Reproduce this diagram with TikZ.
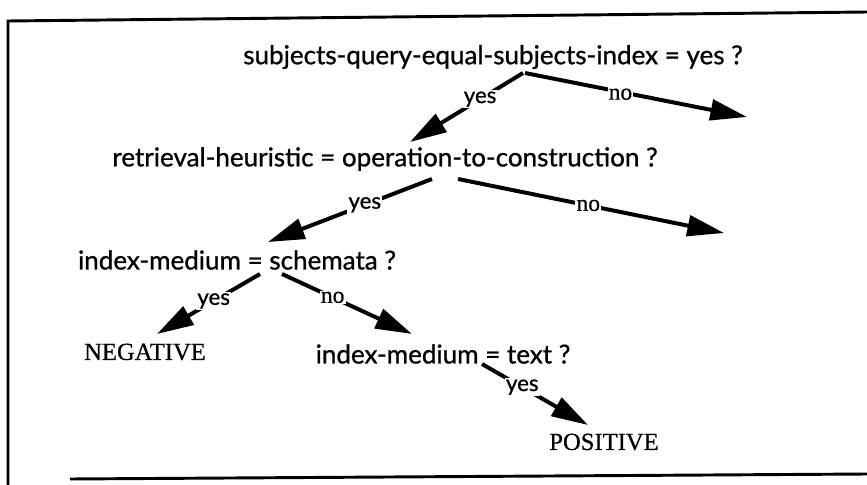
\documentclass[tikz,border=0pt]{standalone}
\usepackage{fontspec}
\usetikzlibrary{arrows.meta,calc}
\newfontfamily\qfont{Lato}[FakeBold=0.9]
\newfontfamily\outfont{Liberation Serif}[FakeBold=0.6]

\begin{document}
\begin{tikzpicture}[
        x=0.03cm, y=-0.03cm,
        question/.style={font=\qfont\fontsize{22.2}{26}\selectfont, inner sep=0pt},
        outcome/.style={font=\outfont\fontsize{21}{24}\selectfont, inner sep=0pt},
        yeslabel/.style={font=\qfont\fontsize{19}{22}\selectfont, fill=white, inner sep=1pt},
        nolabel/.style={font=\outfont\fontsize{20}{23}\selectfont, fill=white, inner sep=1pt},
        branch/.style={line width=3.4pt, -{Triangle[length=1.1cm, width=0.62cm]}},
        frame/.style={line width=2.5pt},
    ]
        \useasboundingbox (0,0) rectangle (867,485);

        % Frame
        \draw[frame] (8,485) -- (8,21) -- (867,12);
        \draw[frame] (70,479) -- (867,474);

        % Questions
        \node[question] (q1) at (493,57) {subjects-query-equal-subjects-index = yes ?};
        \node[question] (q2) at (385,159) {retrieval-heuristic = operation-to-construction ?};
        \node[question] (q3) at (237,260) {index-medium = schemata ?};
        \node[question] (q4) at (443,354) {index-medium = text ?};

        % Outcomes
        \node[outcome] (neg) at (145,352) {NEGATIVE};
        \node[outcome] (pos) at (604,442) {POSITIVE};

        % Open ends
        \coordinate (no1end) at (747,117);
        \coordinate (no2end) at (724,233);

        % Branches
        \draw[branch] ($(q1)+(30,16)$) -- node[yeslabel, pos=0.38] {yes} ($(q2)+(25,-17)$);
        \draw[branch] ($(q1)+(32,16)$) -- node[nolabel, pos=0.43, yshift=-2pt] {no} (no1end);
        \draw[branch] ($(q2)+(47,20)$) -- node[yeslabel, pos=0.41] {yes} ($(q3)+(31,-18)$);
        \draw[branch] ($(q2)+(73,20)$) -- node[nolabel, pos=0.49] {no} (no2end);
        \draw[branch] ($(q3)+(23,14)$) -- node[yeslabel, pos=0.45] {yes} ($(neg)+(12,-18)$);
        \draw[branch] ($(q3)+(45,14)$) -- node[nolabel, pos=0.39] {no} ($(q4)+(-31,-20)$);
        \draw[branch] ($(q4)+(39,10)$) -- node[yeslabel, pos=0.38] {yes} ($(pos)+(-16,-17)$);

    \end{tikzpicture}
\end{document}
